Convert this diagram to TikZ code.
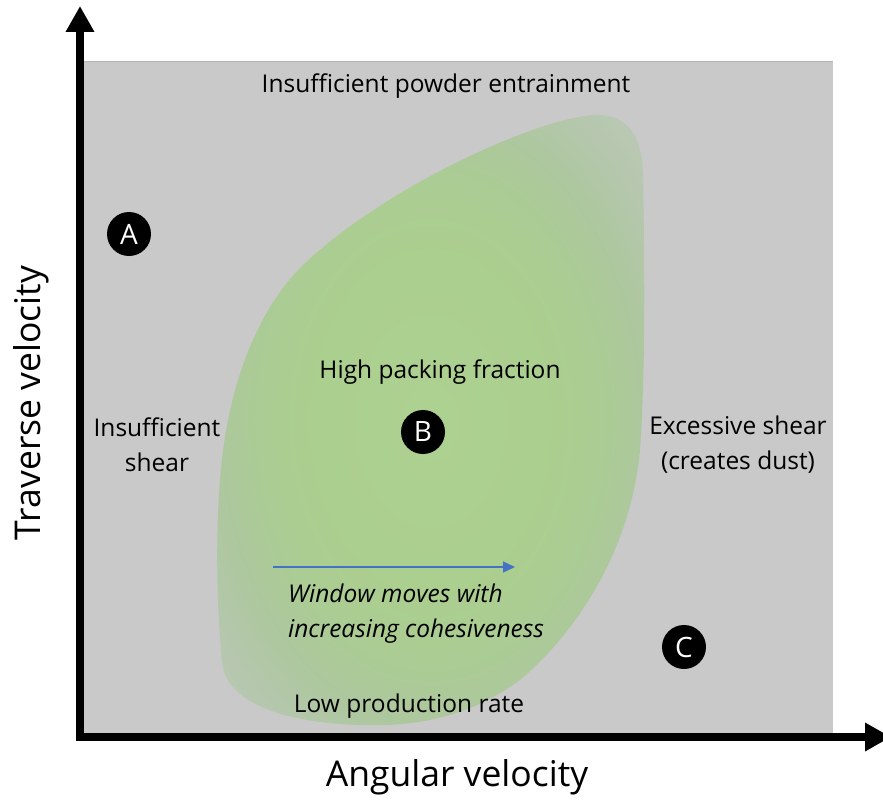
\documentclass[tikz,border=0pt]{standalone}
\usepackage{fontspec}
\setmainfont{Open Sans}
\usetikzlibrary{arrows.meta}
\definecolor{bggray}{RGB}{201,201,201}
\definecolor{bgedge}{RGB}{180,180,180}
\definecolor{arrblue}{RGB}{68,114,196}
\pgfdeclareradialshading{blobshade}{\pgfpoint{0bp}{0bp}}{%
  rgb(0bp)=(0.68,0.82,0.57);
  rgb(14bp)=(0.67,0.81,0.56);
  rgb(20bp)=(0.67,0.80,0.58);
  rgb(25bp)=(0.68,0.78,0.62);
  rgb(30bp)=(0.71,0.78,0.68);
  rgb(36bp)=(0.74,0.79,0.72);
  rgb(100bp)=(0.74,0.79,0.72)}
\tikzset{
  lbl/.style={font=\fontsize{24.5}{35}\selectfont, text=black, inner sep=0pt},
  axlbl/.style={font=\fontsize{35.5}{40}\selectfont, text=black, inner sep=0pt},
  marker/.style={circle, fill=black, text=white, minimum size=44pt, inner sep=0pt,
    font=\fontsize{28}{30}\selectfont},
  axis/.style={line width=8pt, -{Triangle[length=26pt,width=27pt]}},
}
\begin{document}
\begin{tikzpicture}[x=1pt,y=-1pt]
\useasboundingbox (0,0) rectangle (883,808);
\fill[bggray] (84,61) rectangle (833,733);
\draw[bgedge, line width=0.8pt] (84,61) -- (833,61);
% green window
\shade[shading=blobshade]
  (597,115) .. controls (627,115) and (643,135) .. (643,178)
  .. controls (645,280) and (645,380) .. (640,450)
  .. controls (632,540) and (585,625) .. (520,680)
  .. controls (470,716) and (420,727) .. (360,725)
  .. controls (290,723) and (226,705) .. (222,662)
  .. controls (216,600) and (216,530) .. (220,480)
  .. controls (226,400) and (250,320) .. (300,268)
  .. controls (385,185) and (545,115) .. (597,115) -- cycle;
% axes
\coordinate (ytop) at (80,6);
\coordinate (xend) at (891,737);
\coordinate (ybot) at (80,741);
\coordinate (xstart) at (76,737);
\draw[axis] (ybot) -- (ytop);
\draw[axis] (xstart) -- (xend);
% labels
\node[lbl] (top) at (446,86) {Insufficient powder entrainment};
\node[lbl] (high) at (440,372) {High packing fraction};
\node[lbl, align=center] (insh) at (157,445) {Insufficient\\shear};
\node[lbl, align=center] (exsh) at (738,445) {Excessive shear\\(creates dust)};
\node[lbl, align=left, anchor=west, font=\fontsize{24.5}{35}\selectfont\itshape] (win) at (288,614) {Window moves with\\increasing cohesiveness};
\node[lbl] (low) at (409,706) {Low production rate};
\node[axlbl, rotate=90] (yl) at (31,403) {Traverse velocity};
\node[axlbl] (xl) at (457,777) {Angular velocity};
% markers
\node[marker] (A) at (129,234) {A};
\node[marker] (B) at (423,432) {B};
\node[marker] (C) at (684,647) {C};
% blue arrow
\coordinate (ba) at (273,567);
\coordinate (bb) at (515,567);
\draw[arrblue, line width=1.3pt, -{Triangle[length=12pt,width=11pt]}] (ba) -- (bb);
\end{tikzpicture}
\end{document}
